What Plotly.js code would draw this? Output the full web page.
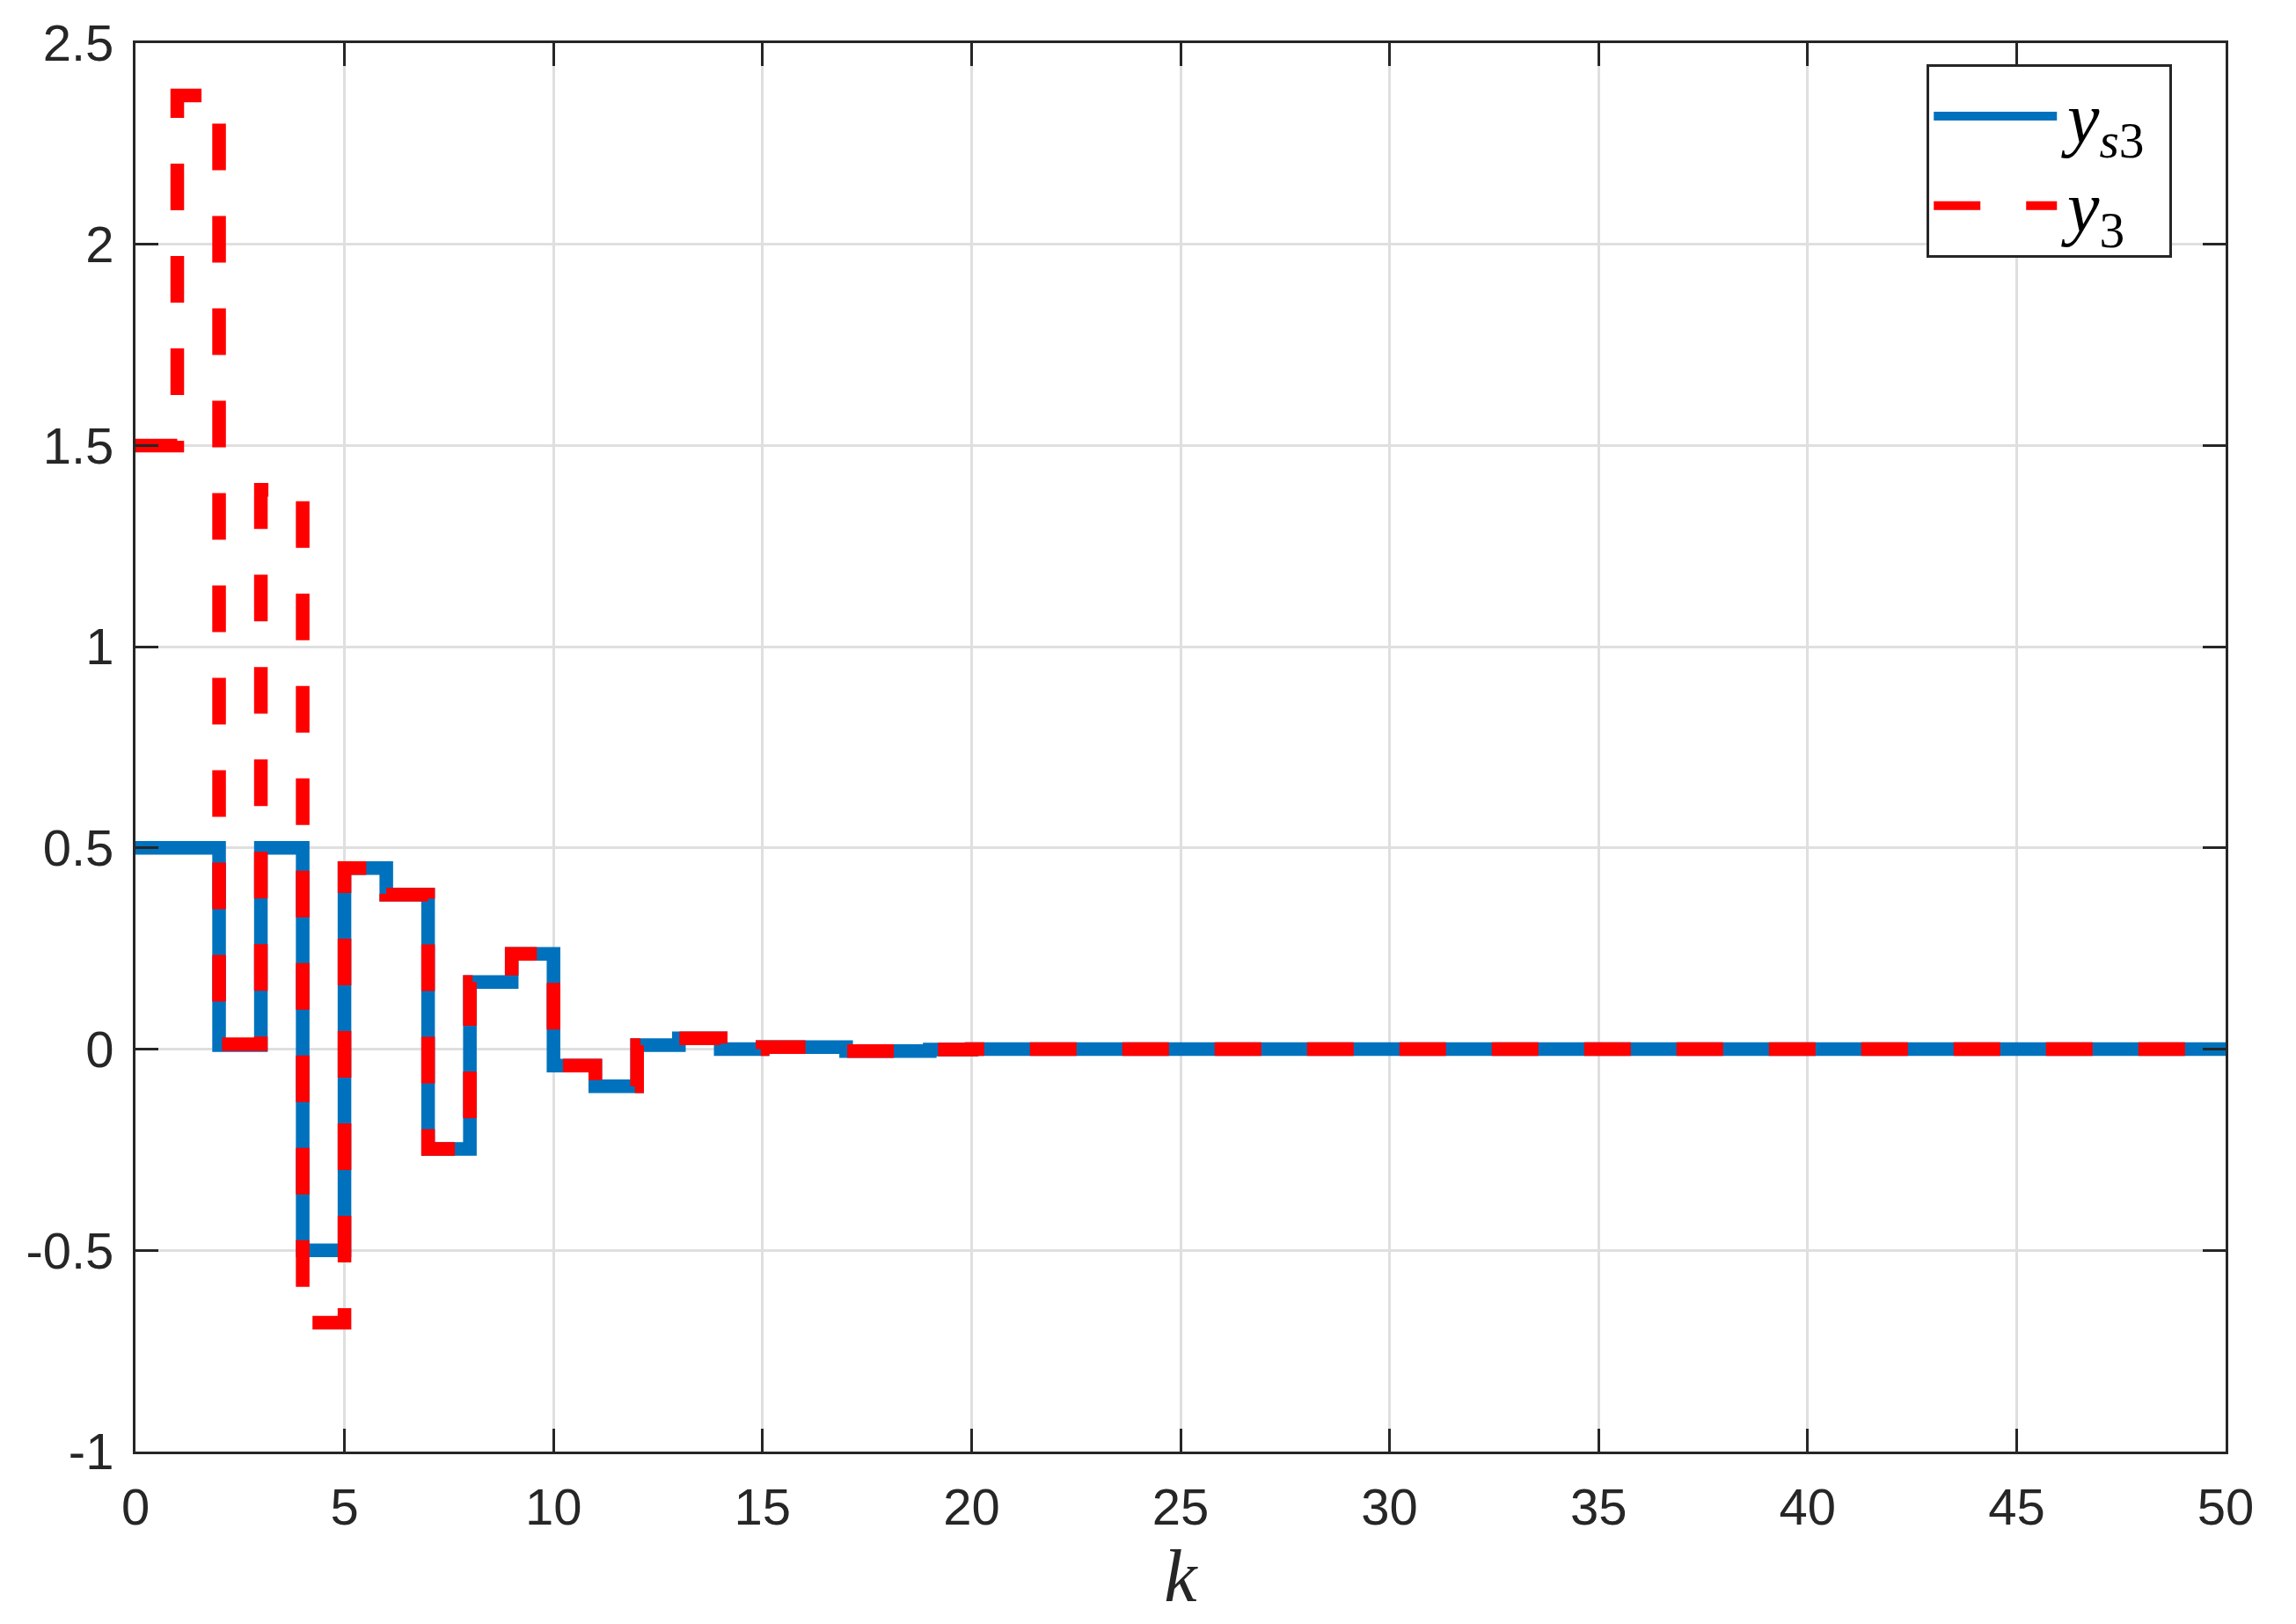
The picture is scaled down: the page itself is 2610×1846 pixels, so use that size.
<!DOCTYPE html>
<html>
<head>
<meta charset="utf-8">
<script src="https://cdn.plot.ly/plotly-3.0.1.min.js"></script>
<style>
html,body{margin:0;padding:0;background:#fff;}
#chart{width:2610px;height:1846px;}
</style>
</head>
<body>
<div id="chart"></div>
<script>
// sample index k (stairs: value holds on [k, k+1))
const k = Array.from({length: 51}, (_, i) => i);
// y_s3 values per step
const ys3 = [0.5, 0.5, 0.01, 0.5, -0.5, 0.45, 0.384, -0.248, 0.167, 0.237,
             -0.041, -0.092, 0.01, 0.027, 0.0, 0.005, 0.005, -0.005, -0.005, -0.001,
             0, 0, 0, 0, 0, 0, 0, 0, 0, 0,
             0, 0, 0, 0, 0, 0, 0, 0, 0, 0,
             0, 0, 0, 0, 0, 0, 0, 0, 0, 0, 0];
// y_3 values per step
const y3 = [1.5, 2.37, 0.012, 1.39, -0.68, 0.45, 0.384, -0.248, 0.167, 0.237,
            -0.041, -0.092, 0.01, 0.027, 0.0, 0.005, 0.005, -0.005, -0.005, -0.001,
            0, 0, 0, 0, 0, 0, 0, 0, 0, 0,
            0, 0, 0, 0, 0, 0, 0, 0, 0, 0,
            0, 0, 0, 0, 0, 0, 0, 0, 0, 0, 0];
const xTicks = [0, 5, 10, 15, 20, 25, 30, 35, 40, 45, 50];
const yTicks = [-1, -0.5, 0, 0.5, 1, 1.5, 2, 2.5];
const yTickText = ['-1', '-0.5', '0', '0.5', '1', '1.5', '2', '2.5'];
const seriesNames = [
  '<span style="font-size:82px">&#8202;<i>y</i><sub><i>s</i>3</sub>&#8201;&#8202;</span>',
  '<span style="font-size:82px">&#8202;<i>y</i><sub>3</sub>&#8201;&#8202;</span>'
];

const axisCol = '#262626';
const tickFont = {family: 'Liberation Sans, Arial, sans-serif', size: 58, color: axisCol};

const traces = [
  {x: k, y: ys3, type: 'scatter', mode: 'lines', name: seriesNames[0],
   line: {shape: 'hv', color: '#0072BD', width: 15.5}},
  {x: k, y: y3, type: 'scatter', mode: 'lines', name: seriesNames[1],
   line: {shape: 'hv', color: '#FF0000', width: 15.5, dash: '53px,52px'}}
];

const layout = {
  width: 2610, height: 1846,
  margin: {l: 153.5, r: 80, t: 48.5, b: 195.5},
  paper_bgcolor: '#ffffff', plot_bgcolor: '#ffffff',
  showlegend: true,
  xaxis: {
    range: [0, 50], tickvals: xTicks, ticktext: xTicks.map(String),
    showgrid: true, gridcolor: '#dfdfdf', gridwidth: 3,
    zeroline: false, showline: true, linecolor: axisCol, linewidth: 3, mirror: 'ticks',
    ticks: 'inside', ticklen: 26, tickwidth: 3, tickcolor: axisCol,
    tickfont: tickFont, ticklabelstandoff: 10,
    title: {text: '<i>k</i>', font: {family: 'Liberation Serif, serif', size: 84, color: axisCol}, standoff: 8},
    automargin: false
  },
  yaxis: {
    range: [-1, 2.5], tickvals: yTicks, ticktext: yTickText,
    showgrid: true, gridcolor: '#dfdfdf', gridwidth: 3,
    zeroline: false, showline: true, linecolor: axisCol, linewidth: 3, mirror: 'ticks',
    ticks: 'inside', ticklen: 26, tickwidth: 3, tickcolor: axisCol,
    tickfont: tickFont, ticklabelstandoff: 10,
    automargin: false
  },
  legend: {
    x: 0.857, y: 0.985, xanchor: 'left', yanchor: 'top',
    bgcolor: '#ffffff', bordercolor: axisCol, borderwidth: 3,
    font: {family: 'Liberation Serif, serif', size: 76, color: '#000000'},
    itemwidth: 140
  }
};

Plotly.newPlot('chart', traces, layout, {staticPlot: true, displayModeBar: false});
</script>
</body>
</html>
